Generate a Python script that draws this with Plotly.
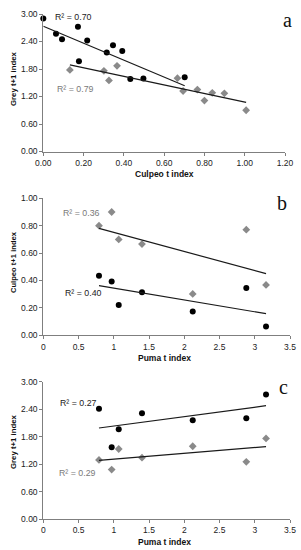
import numpy as np
import plotly.graph_objects as go

# ---- data ----
# Panel a: Culpeo t index vs Grey t+1 index
a_black_x = [0.00, 0.063, 0.093, 0.172, 0.218, 0.177, 0.315, 0.346, 0.392, 0.432, 0.497, 0.702]
a_black_y = [2.90, 2.57, 2.45, 2.72, 2.42, 1.97, 2.16, 2.32, 2.19, 1.58, 1.59, 1.62]
a_grey_x = [0.132, 0.301, 0.366, 0.326, 0.666, 0.694, 0.765, 0.800, 0.839, 0.899, 1.007]
a_grey_y = [1.78, 1.76, 1.87, 1.55, 1.60, 1.32, 1.35, 1.11, 1.28, 1.27, 0.90]

# Puma t index (shared by panels b and c)
puma_x = [0.79, 0.97, 1.07, 1.40, 2.12, 2.88, 3.16]
# Panel b: Culpeo t+1 index
b_grey_y = [0.80, 0.90, 0.70, 0.666, 0.302, 0.771, 0.368]
b_black_y = [0.434, 0.393, 0.222, 0.315, 0.173, 0.345, 0.065]
# Panel c: Grey t+1 index
c_black_y = [2.41, 1.57, 1.96, 2.31, 2.16, 2.20, 2.72]
c_grey_y = [1.29, 1.08, 1.53, 1.34, 1.59, 1.25, 1.76]

r2_labels = {"a_black": "R² = 0.70", "a_grey": "R² = 0.79",
             "b_grey": "R² = 0.36", "b_black": "R² = 0.40",
             "c_black": "R² = 0.27", "c_grey": "R² = 0.29"}

a_ticks_x = [0.0, 0.2, 0.4, 0.6, 0.8, 1.0, 1.2]
grey_ticks_y = [0.0, 0.6, 1.2, 1.8, 2.4, 3.0]
puma_ticks_x = [0, 0.5, 1, 1.5, 2, 2.5, 3, 3.5]
culpeo_ticks_y = [0.0, 0.2, 0.4, 0.6, 0.8, 1.0]

BLACK = "#000000"
GREY = "#8a8a8a"
W, H = 301, 550

fig = go.Figure()


def add_series(x, y, xa, ya, color, symbol, size):
    fig.add_trace(go.Scatter(x=x, y=y, mode="markers", xaxis=xa, yaxis=ya,
                             marker=dict(color=color, symbol=symbol, size=size,
                                         line=dict(width=0)),
                             showlegend=False, hoverinfo="skip", cliponaxis=False))
    xs = np.array(x, dtype=float)
    ys = np.array(y, dtype=float)
    m, c = np.polyfit(xs, ys, 1)
    lx = np.array([xs.min(), xs.max()])
    fig.add_trace(go.Scatter(x=lx, y=m * lx + c, mode="lines", xaxis=xa, yaxis=ya,
                             line=dict(color="#1a1a1a", width=1.2),
                             showlegend=False, hoverinfo="skip"))


add_series(a_black_x, a_black_y, "x", "y", BLACK, "circle", 6)
add_series(a_grey_x, a_grey_y, "x", "y", GREY, "diamond", 6)
add_series(puma_x, b_grey_y, "x2", "y2", GREY, "diamond", 6)
add_series(puma_x, b_black_y, "x2", "y2", BLACK, "circle", 6)
add_series(puma_x, c_black_y, "x3", "y3", BLACK, "circle", 6)
add_series(puma_x, c_grey_y, "x3", "y3", GREY, "diamond", 6)


def px(x):
    return x / W


def py(y):
    return 1 - y / H


axis_common = dict(showgrid=False, zeroline=False, showline=True, linecolor="#7f7f7f",
                   linewidth=1, ticks="outside", ticklen=3, tickcolor="#7f7f7f",
                   tickfont=dict(family="Arial, Liberation Sans", size=8.5, color="#222"),
                   fixedrange=True, automargin=False)

fig.update_layout(
    width=W, height=H, margin=dict(l=0, r=0, t=0, b=0, autoexpand=False),
    paper_bgcolor="white", plot_bgcolor="white",
    xaxis=dict(axis_common, domain=[px(43.3), px(285)], range=[0, 1.2],
               tickvals=a_ticks_x, ticktext=[f"{v:.2f}" for v in a_ticks_x], anchor="y"),
    yaxis=dict(axis_common, domain=[py(151.5), py(14)], range=[0, 3.0],
               tickvals=grey_ticks_y, ticktext=[f"{v:.2f}" for v in grey_ticks_y], anchor="x"),
    xaxis2=dict(axis_common, domain=[px(43.3), px(290)], range=[0, 3.5],
                tickvals=puma_ticks_x, ticktext=[f"{v:g}" for v in puma_ticks_x], anchor="y2"),
    yaxis2=dict(axis_common, domain=[py(335.3), py(198.3)], range=[0, 1.0],
                tickvals=culpeo_ticks_y, ticktext=[f"{v:.2f}" for v in culpeo_ticks_y], anchor="x2"),
    xaxis3=dict(axis_common, domain=[px(43.3), px(290)], range=[0, 3.5],
                tickvals=puma_ticks_x, ticktext=[f"{v:g}" for v in puma_ticks_x], anchor="y3"),
    yaxis3=dict(axis_common, domain=[py(519), py(381.7)], range=[0, 3.0],
                tickvals=grey_ticks_y, ticktext=[f"{v:.2f}" for v in grey_ticks_y], anchor="x3"),
)

ann = []


def text(x, y, s, color="#111", size=9, bold=False, family="Arial, Liberation Sans",
         angle=0, xanchor="center"):
    ann.append(dict(x=px(x), y=py(y), xref="paper", yref="paper", text=f"<b>{s}</b>" if bold else s,
                    showarrow=False, font=dict(family=family, size=size, color=color),
                    textangle=angle, xanchor=xanchor, yanchor="middle"))


# axis titles
text(164, 174, "Culpeo t index", bold=True, size=8.5)
text(13, 79, "Grey t+1 index", bold=True, angle=-90, size=7.8)
text(164, 358, "Puma t index", bold=True, size=8.5)
text(13, 262, "Culpeo t+1 index", bold=True, angle=-90, size=7.6)
text(164, 541.5, "Puma t index", bold=True, size=8.5)
text(13, 442, "Grey t+1 index", bold=True, angle=-90, size=7.8)

# panel letters
serif = "Liberation Serif, Times New Roman, serif"
text(287.5, 20, "a", size=20, family=serif)
text(282, 203, "b", size=20, family=serif)
text(283, 387, "c", size=20, family=serif)

# R² labels
text(53, 17, r2_labels["a_black"], color="#222", xanchor="left", size=8.8)
text(55, 89, r2_labels["a_grey"], color="#7a7a7a", xanchor="left", size=8.8)
text(61, 213, r2_labels["b_grey"], color="#7a7a7a", xanchor="left", size=8.8)
text(63, 293, r2_labels["b_black"], color="#222", xanchor="left", size=8.8)
text(58, 403, r2_labels["c_black"], color="#222", xanchor="left", size=8.8)
text(57, 473, r2_labels["c_grey"], color="#7a7a7a", xanchor="left", size=8.8)

fig.update_layout(annotations=ann)
fig.write_html("out.html", config={"displayModeBar": False},
               post_script="document.body.style.margin='0';document.body.style.overflow='hidden';")
